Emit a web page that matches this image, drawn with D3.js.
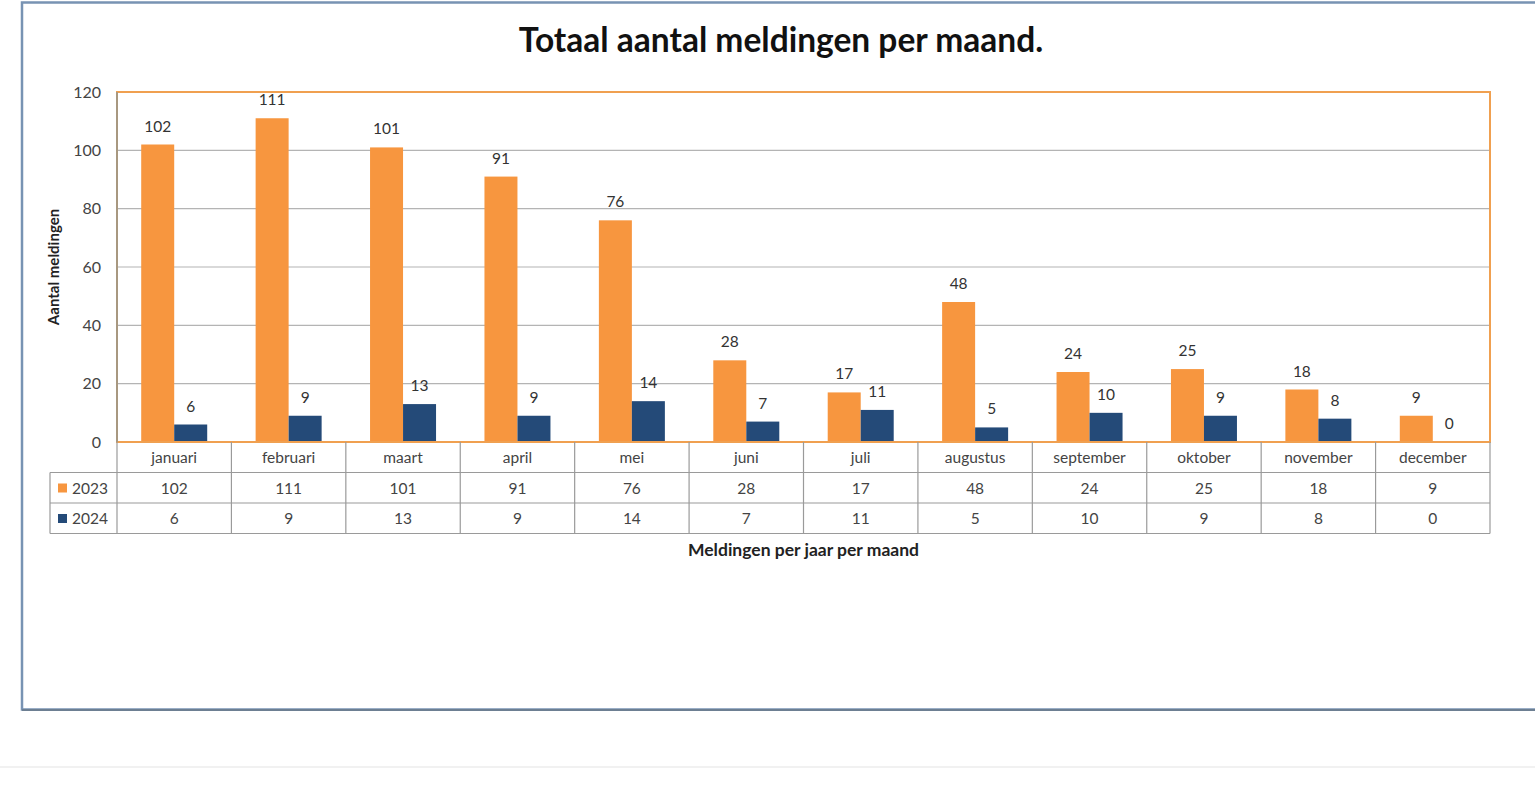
<!DOCTYPE html>
<html>
<head>
<meta charset="utf-8">
<script src="https://cdn.jsdelivr.net/npm/d3@7"></script>
<style>
  body { margin: 0; background: #fff; }
  svg { display: block; font-family: Lato, "Open Sans", sans-serif; }
</style>
</head>
<body>
<div id="chart"></div>
<script>
// data
const months = ['januari', 'februari', 'maart', 'april', 'mei', 'juni', 'juli', 'augustus', 'september', 'oktober', 'november', 'december'];
const seriesNames = ['2023', '2024'];
const values2023 = [102, 111, 101, 91, 76, 28, 17, 48, 24, 25, 18, 9];
const values2024 = [6, 9, 13, 9, 14, 7, 11, 5, 10, 9, 8, 0];
const yTicks = [0, 20, 40, 60, 80, 100, 120];

const seriesValues = [values2023, values2024];
const colors = ['#f7963f', '#244a78'];

const width = 1535, height = 798;
const plot = { left: 117, right: 1490, top: 92, bottom: 442 };
const rowH = 30.5;

const svg = d3.select('#chart').append('svg')
  .attr('width', width)
  .attr('height', height);

// outer frame
svg.append('rect')
  .attr('x', 22).attr('y', 2.5)
  .attr('width', 1530).attr('height', 707)
  .attr('fill', '#fff')
  .attr('stroke', '#7893b3')
  .attr('stroke-width', 2.5);
svg.append('line')
  .attr('x1', 22).attr('x2', 1535)
  .attr('y1', 710).attr('y2', 710)
  .attr('stroke', '#6d7f92').attr('stroke-width', 2);

// faint page separator
svg.append('line')
  .attr('x1', 0).attr('x2', width)
  .attr('y1', 767).attr('y2', 767)
  .attr('stroke', '#ececec').attr('stroke-width', 1.5);

// title
svg.append('text')
  .attr('x', 781).attr('y', 52)
  .attr('text-anchor', 'middle')
  .attr('font-size', 33.5)
  .attr('font-weight', 'bold')
  .attr('fill', '#111')
  .text('Totaal aantal meldingen per maand.');

const x0 = d3.scaleBand()
  .domain(months)
  .range([plot.left, plot.right]);

const x1 = d3.scaleBand()
  .domain(seriesNames)
  .range([0, 66])
  .padding(0);

const y = d3.scaleLinear()
  .domain([0, 120])
  .range([plot.bottom, plot.top]);

// gridlines
svg.append('g')
  .selectAll('line')
  .data(yTicks.slice(1, -1))
  .enter()
  .append('line')
  .attr('x1', plot.left).attr('x2', plot.right)
  .attr('y1', (d) => y(d)).attr('y2', (d) => y(d))
  .attr('stroke', '#b4b4b4')
  .attr('stroke-width', 1.2);

// y axis
const yAxis = d3.axisLeft(y)
  .tickValues(yTicks)
  .tickSize(0)
  .tickPadding(16);

const yg = svg.append('g')
  .attr('transform', 'translate(' + plot.left + ',0)')
  .call(yAxis);
yg.select('.domain').remove();
yg.selectAll('text')
  .attr('font-size', 16)
  .attr('fill', '#444')
  .attr('font-family', 'Lato, sans-serif');

svg.append('text')
  .attr('transform', 'translate(59,' + ((plot.top + plot.bottom) / 2) + ') rotate(-90)')
  .attr('text-anchor', 'middle')
  .attr('font-size', 15)
  .attr('font-weight', 'bold')
  .attr('fill', '#222')
  .text('Aantal meldingen');

// bars
const groups = svg.append('g')
  .selectAll('g')
  .data(months)
  .enter()
  .append('g')
  .attr('transform', (d) => 'translate(' + (x0(d) + (x0.bandwidth() - 66) / 2) + ',0)');

groups.selectAll('rect')
  .data((d, i) => seriesNames.map((s, k) => ({ key: s, value: seriesValues[k][i], k: k })))
  .enter()
  .append('rect')
  .attr('x', (d) => x1(d.key))
  .attr('width', x1.bandwidth())
  .attr('y', (d) => y(d.value))
  .attr('height', (d) => plot.bottom - y(d.value))
  .attr('fill', (d) => colors[d.k]);

groups.selectAll('text')
  .data((d, i) => seriesNames.map((s, k) => ({ key: s, value: seriesValues[k][i], k: k })))
  .enter()
  .append('text')
  .attr('x', (d) => x1(d.key) + x1.bandwidth() / 2)
  .attr('y', (d) => y(d.value) - 13)
  .attr('text-anchor', 'middle')
  .attr('font-size', 15.5)
  .attr('fill', '#333')
  .text((d) => d.value);

// plot border
svg.append('rect')
  .attr('x', plot.left).attr('y', plot.top)
  .attr('width', plot.right - plot.left)
  .attr('height', plot.bottom - plot.top)
  .attr('fill', 'none')
  .attr('stroke', '#f0a050')
  .attr('stroke-width', 2);
svg.append('line')
  .attr('x1', plot.left).attr('x2', plot.left)
  .attr('y1', plot.top).attr('y2', plot.bottom)
  .attr('stroke', '#a89880').attr('stroke-width', 2);

// data table
const table = svg.append('g').attr('stroke', '#9a9a9a').attr('stroke-width', 1.2);
const tTop = plot.bottom, tLeft = 50;
[1, 2, 3].forEach((r) => {
  table.append('line')
    .attr('x1', tLeft).attr('x2', plot.right)
    .attr('y1', tTop + r * rowH).attr('y2', tTop + r * rowH);
});
table.append('line')
  .attr('x1', tLeft).attr('x2', tLeft)
  .attr('y1', tTop + rowH).attr('y2', tTop + 3 * rowH);
months.forEach((m) => {
  table.append('line')
    .attr('x1', x0(m)).attr('x2', x0(m))
    .attr('y1', tTop).attr('y2', tTop + 3 * rowH);
});
table.append('line')
  .attr('x1', plot.right).attr('x2', plot.right)
  .attr('y1', tTop).attr('y2', tTop + 3 * rowH);

// month labels
svg.append('g')
  .selectAll('text')
  .data(months)
  .enter()
  .append('text')
  .attr('x', (d) => x0(d) + x0.bandwidth() / 2)
  .attr('y', tTop + 21)
  .attr('text-anchor', 'middle')
  .attr('font-size', 15.5)
  .attr('fill', '#444')
  .text((d) => d);

// values rows
seriesNames.forEach((s, k) => {
  const rowY = tTop + (k + 1) * rowH;
  svg.append('rect')
    .attr('x', 58).attr('y', rowY + 11)
    .attr('width', 9).attr('height', 9)
    .attr('fill', colors[k]);
  svg.append('text')
    .attr('x', 72).attr('y', rowY + 21)
    .attr('font-size', 15.5)
    .attr('fill', '#444')
    .text(s);
  svg.append('g')
    .selectAll('text')
    .data(seriesValues[k])
    .enter()
    .append('text')
    .attr('x', (d, i) => x0(months[i]) + x0.bandwidth() / 2)
    .attr('y', rowY + 21)
    .attr('text-anchor', 'middle')
    .attr('font-size', 15.5)
    .attr('fill', '#444')
    .text((d) => d);
});

// x axis title
svg.append('text')
  .attr('x', (plot.left + plot.right) / 2)
  .attr('y', 556)
  .attr('text-anchor', 'middle')
  .attr('font-size', 17.5)
  .attr('font-weight', 'bold')
  .attr('fill', '#222')
  .text('Meldingen per jaar per maand');
</script>
</body>
</html>
